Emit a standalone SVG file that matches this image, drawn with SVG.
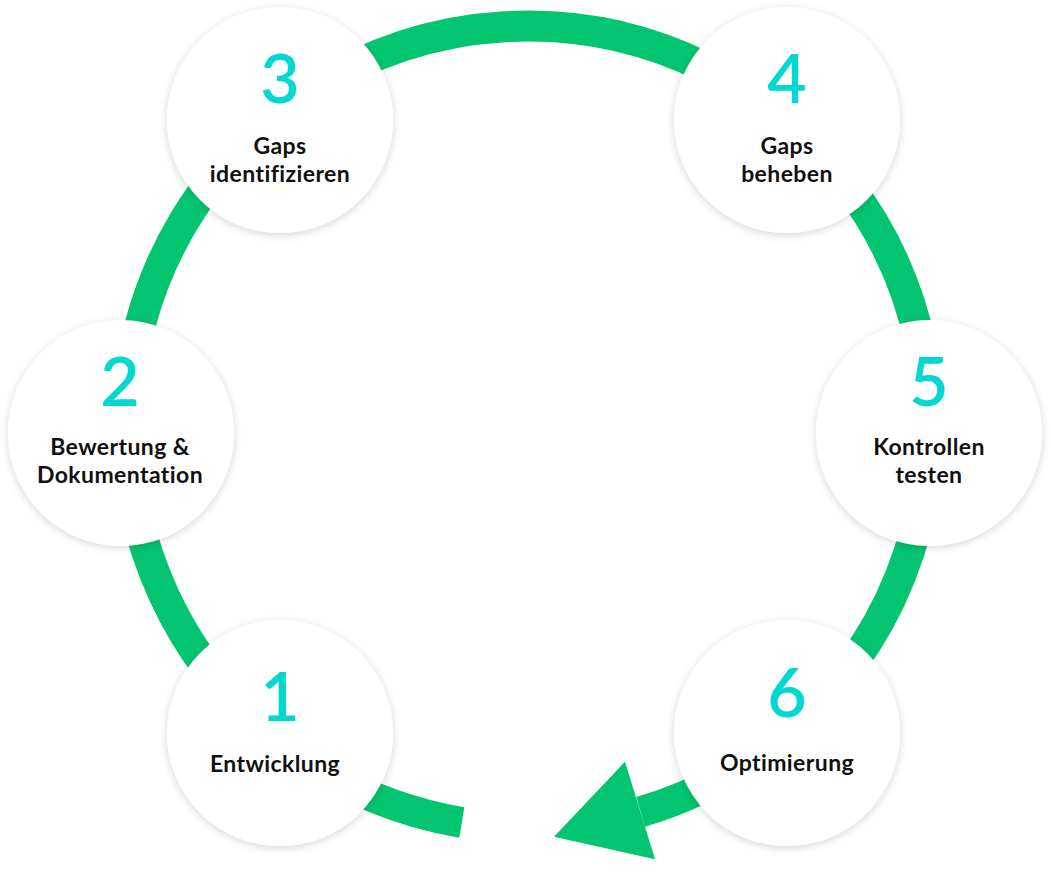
<svg xmlns="http://www.w3.org/2000/svg" width="1051" height="887" viewBox="0 0 1051 887">
<style>
.node{fill:#ffffff;filter:url(#sh)}
.num{font-family:Lato,"Open Sans","Liberation Sans",sans-serif;font-weight:600;font-size:68px;fill:#00d8d0;text-anchor:middle}
.lbl{font-family:Lato,"Open Sans","Liberation Sans",sans-serif;font-weight:700;font-size:23px;letter-spacing:0.4px;fill:#111111;text-anchor:middle}
.ring{fill:none;stroke:#03c56f;stroke-width:31}
</style>
<defs>
<filter id="sh" x="-20%" y="-20%" width="140%" height="140%">
<feDropShadow dx="0" dy="2" stdDeviation="4" flood-color="#000000" flood-opacity="0.16"/>
</filter>
</defs>
<rect width="1051" height="887" fill="#ffffff"/>
<g id="connectors">
<path class="ring" d="M461.8,822.5 A401,401 0 1 1 640.6,811.9"/>
<polygon points="625,761.7 554,836.7 655,859.3" fill="#03c56f"/>
</g>
<g id="node1">
<circle class="node" cx="280" cy="733" r="113"/>
<text class="num" x="280" y="721">1</text>
<text class="lbl" x="275" y="772">Entwicklung</text>
</g>
<g id="node2">
<circle class="node" cx="121" cy="433" r="113"/>
<text class="num" x="120" y="406">2</text>
<text class="lbl" x="120" y="455">Bewertung &amp;</text>
<text class="lbl" x="120" y="483">Dokumentation</text>
</g>
<g id="node3">
<circle class="node" cx="280" cy="120" r="113"/>
<text class="num" x="280" y="103">3</text>
<text class="lbl" x="280" y="154">Gaps</text>
<text class="lbl" x="280" y="182">identifizieren</text>
</g>
<g id="node4">
<circle class="node" cx="787" cy="120" r="113"/>
<text class="num" x="787" y="103">4</text>
<text class="lbl" x="787" y="154">Gaps</text>
<text class="lbl" x="787" y="182">beheben</text>
</g>
<g id="node5">
<circle class="node" cx="929" cy="433" r="113"/>
<text class="num" x="929" y="406">5</text>
<text class="lbl" x="929" y="455">Kontrollen</text>
<text class="lbl" x="929" y="483">testen</text>
</g>
<g id="node6">
<circle class="node" cx="787" cy="733" r="113"/>
<text class="num" x="787" y="717">6</text>
<text class="lbl" x="787" y="771">Optimierung</text>
</g>
</svg>
